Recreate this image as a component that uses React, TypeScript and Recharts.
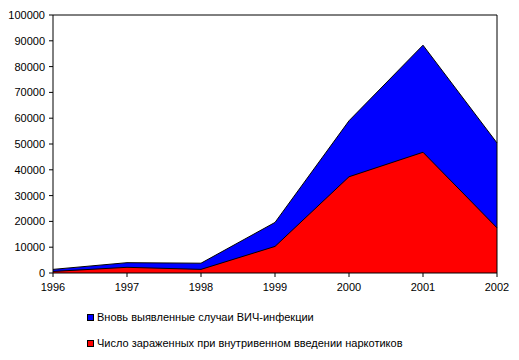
import { AreaChart, Area, XAxis, YAxis, ReferenceLine } from 'recharts'

const years = ['1996', '1997', '1998', '1999', '2000', '2001', '2002']
const newCases = [1400, 4000, 3800, 19600, 59000, 88300, 50400]
const drugUsers = [600, 2200, 1400, 10300, 37300, 46800, 17500]
const yTicks = [0, 10000, 20000, 30000, 40000, 50000, 60000, 70000, 80000, 90000, 100000]

const data = years.map((year, i) => ({ year, newCases: newCases[i], drugUsers: drugUsers[i] }))

const legendItems = [
  { color: '#0000ff', label: 'Вновь выявленные случаи ВИЧ-инфекции' },
  { color: '#ff0000', label: 'Число зараженных при внутривенном введении наркотиков' },
]

const font = '"Liberation Sans", Arial, sans-serif'

function LegendBox() {
  return (
    <div style={{ position: 'absolute', left: 87, top: 304, fontFamily: font, fontSize: 11, color: '#000' }}>
      {legendItems.map((item) => (
        <div key={item.label} style={{ display: 'flex', alignItems: 'center', height: 26 }}>
          <span style={{ width: 5, height: 5, background: item.color, border: '1px solid #000', marginRight: 3 }} />
          <span>{item.label}</span>
        </div>
      ))}
    </div>
  )
}

export default function App() {
  return (
    <div style={{ position: 'absolute', left: 0, top: 0, width: 519, height: 360, background: '#fff' }}>
      <AreaChart width={519} height={360} data={data} margin={{ top: 15, right: 22, left: 0, bottom: 0 }}>
        <XAxis
          dataKey="year"
          stroke="#000"
          tickSize={4}
          tickMargin={6}
          height={87}
          tick={{ fill: '#000', fontSize: 11, fontFamily: font }}
          interval={0}
        />
        <YAxis
          type="number"
          domain={[0, 100000]}
          ticks={yTicks}
          stroke="#000"
          tickSize={4}
          tickMargin={4}
          width={53}
          interval={0}
          tick={{ fill: '#000', fontSize: 11, fontFamily: font }}
        />
        <Area type="linear" dataKey="newCases" stroke="#000" strokeWidth={1} fill="#0000ff" fillOpacity={1} isAnimationActive={false} />
        <Area type="linear" dataKey="drugUsers" stroke="#000" strokeWidth={1} fill="#ff0000" fillOpacity={1} isAnimationActive={false} />
        <ReferenceLine y={100000} stroke="#000" />
        <ReferenceLine x="2002" stroke="#000" />
      </AreaChart>
      <LegendBox />
    </div>
  )
}
